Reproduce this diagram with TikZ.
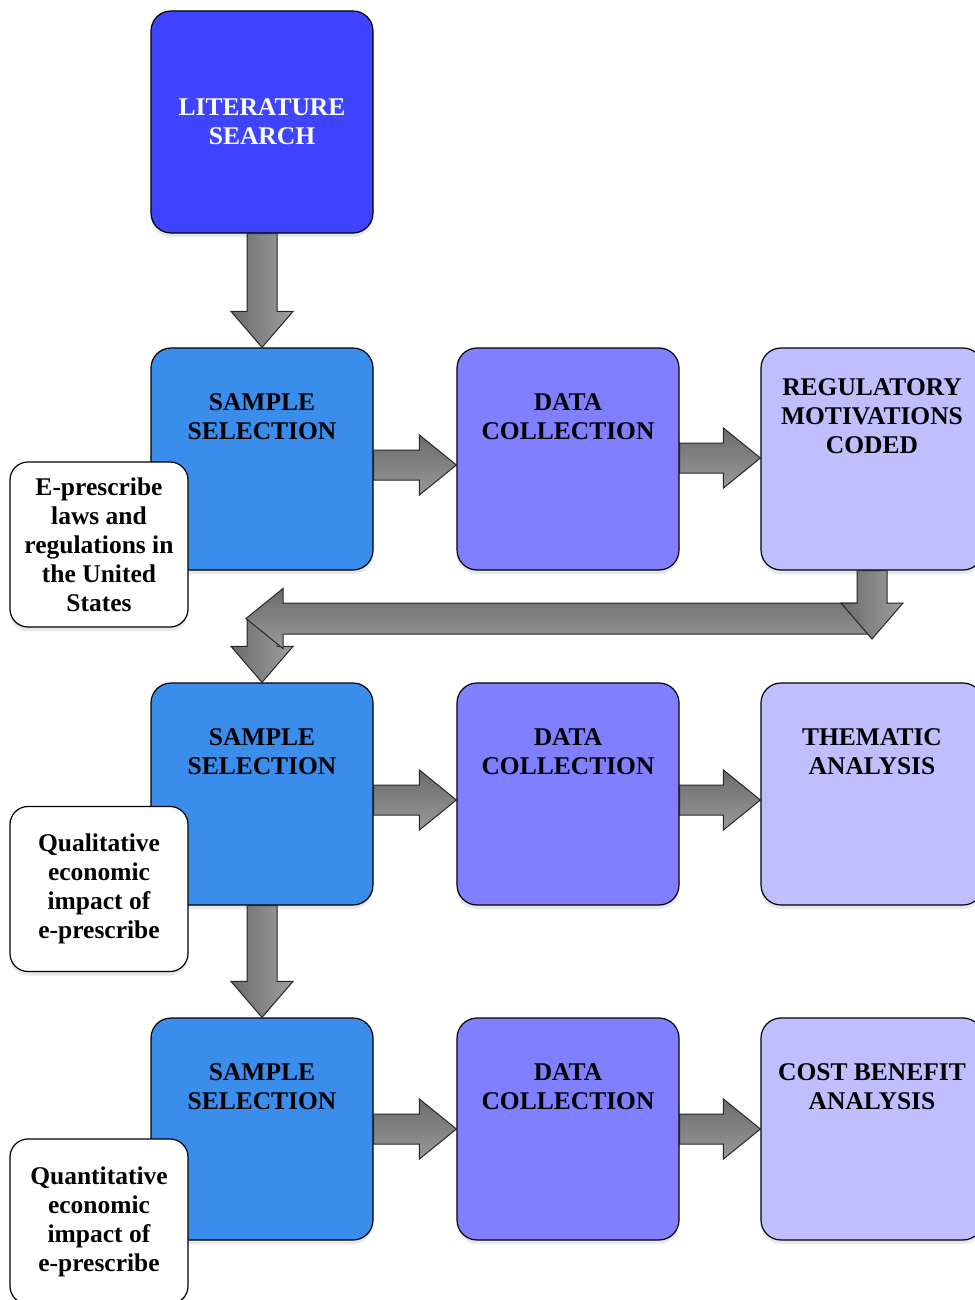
\documentclass[tikz,border=0pt]{standalone}
\usepackage{fontspec}
\setmainfont{Liberation Serif}
\usetikzlibrary{calc,shadows}

\definecolor{litblue}{RGB}{63,68,255}
\definecolor{sampblue}{RGB}{59,141,235}
\definecolor{datablue}{RGB}{127,127,255}
\definecolor{resblue}{RGB}{191,191,255}

% block arrows: #1 = where the shaft starts, #2 = tip
\newcommand{\blockdown}[2]{%
  \draw[blockv] let \p1=(#1), \p2=(#2) in
    (\x2-15pt,\y1) -- (\x2-15pt,\y2+36pt) -- (\x2-31pt,\y2+36pt) -- (\x2,\y2)
    -- (\x2+31pt,\y2+36pt) -- (\x2+15pt,\y2+36pt) -- (\x2+15pt,\y1) -- cycle;}
\newcommand{\blockright}[2]{%
  \draw[blockh] let \p1=(#1), \p2=(#2) in
    (\x1,\y2+15pt) -- (\x2-37pt,\y2+15pt) -- (\x2-37pt,\y2+30pt) -- (\x2,\y2)
    -- (\x2-37pt,\y2-30pt) -- (\x2-37pt,\y2-15pt) -- (\x1,\y2-15pt) -- cycle;}
\newcommand{\blockleft}[2]{%
  \draw[blockh] let \p1=(#1), \p2=(#2) in
    (\x1,\y2+15.5pt) -- (\x2+37pt,\y2+15.5pt) -- (\x2+37pt,\y2+30pt) -- (\x2,\y2)
    -- (\x2+37pt,\y2-30pt) -- (\x2+37pt,\y2-15.5pt) -- (\x1,\y2-15.5pt) -- cycle;}

\begin{document}
\begin{tikzpicture}[x=1pt,y=-1pt,
    box/.style={draw=black, line width=1.2pt, rounded corners=20pt,
      minimum width=222pt, minimum height=222pt, inner sep=0pt,
      drop shadow={shadow xshift=0pt, shadow yshift=-4pt, opacity=.18}},
    boxtext/.style={align=center, font=\fontsize{25.5}{29}\selectfont\bfseries},
    note/.style={box, boxtext, fill=white, rounded corners=18pt,
      minimum width=178pt, minimum height=165pt},
    blockv/.style={draw=black!85, line width=1pt, left color=black!58, right color=black!38},
    blockh/.style={draw=black!85, line width=1pt, top color=black!58, bottom color=black!40}]
  \useasboundingbox (0,0) rectangle (974,1300);

  % boxes
  \node[box, boxtext, fill=litblue, text=white] (lit) at (262,122) {LITERATURE\\SEARCH};

  \node[box, fill=sampblue] (samp1) at (262,459) {};
  \node[box, fill=datablue] (data1) at (568,459) {};
  \node[box, fill=resblue] (code1) at (872,459) {};

  \node[box, fill=sampblue] (samp2) at (262,794) {};
  \node[box, fill=datablue] (data2) at (568,794) {};
  \node[box, fill=resblue] (theme2) at (872,794) {};

  \node[box, fill=sampblue] (samp3) at (262,1129) {};
  \node[box, fill=datablue] (data3) at (568,1129) {};
  \node[box, fill=resblue] (cost3) at (872,1129) {};

  \node[boxtext] (samp1t) at ([yshift=-69pt]samp1.north) {SAMPLE\\SELECTION};
  \node[boxtext] (data1t) at ([yshift=-69pt]data1.north) {DATA\\COLLECTION};
  \node[boxtext] (code1t) at ([yshift=-69pt]code1.north) {REGULATORY\\MOTIVATIONS\\CODED};
  \node[boxtext] (samp2t) at ([yshift=-69pt]samp2.north) {SAMPLE\\SELECTION};
  \node[boxtext] (data2t) at ([yshift=-69pt]data2.north) {DATA\\COLLECTION};
  \node[boxtext] (theme2t) at ([yshift=-69pt]theme2.north) {THEMATIC\\ANALYSIS};
  \node[boxtext] (samp3t) at ([yshift=-69pt]samp3.north) {SAMPLE\\SELECTION};
  \node[boxtext] (data3t) at ([yshift=-69pt]data3.north) {DATA\\COLLECTION};
  \node[boxtext] (cost3t) at ([yshift=-69pt]cost3.north) {COST BENEFIT\\ANALYSIS};

  % arrows
  \blockdown{lit.south}{samp1.north}
  \blockright{samp1.east}{[yshift=-6pt]data1.west}
  \blockright{data1.east}{[yshift=1pt]code1.west}

  \coordinate (turnR) at (872,639);
  \coordinate (bendR) at (870,618.5);
  \coordinate (bendL) at (246,618.5);
  \coordinate (dropL) at (262,620);
  \blockdown{dropL}{samp2.north}
  \blockleft{bendR}{bendL}
  \blockdown{code1.south}{turnR}

  \blockright{samp2.east}{[yshift=-6pt]data2.west}
  \blockright{data2.east}{[yshift=-6pt]theme2.west}
  \blockdown{samp2.south}{samp3.north}
  \blockright{samp3.east}{data3.west}
  \blockright{data3.east}{cost3.west}

  % side notes
  \node[note] (note1) at (99,544.5) {E-prescribe\\laws and\\regulations in\\the United\\States};
  \node[note] (note2) at (99,889) {Qualitative\\economic\\impact of\\e-prescribe};
  \node[note] (note3) at (99,1221.5) {Quantitative\\economic\\impact of\\e-prescribe};
\end{tikzpicture}
\end{document}
